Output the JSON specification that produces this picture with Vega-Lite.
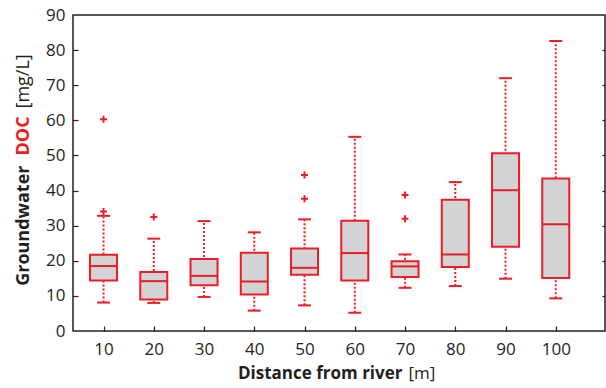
{
  "$schema": "https://vega.github.io/schema/vega-lite/v6.json",
  "width": 532,
  "height": 316,
  "autosize": "none",
  "padding": {"left": 73, "top": 15, "right": 1, "bottom": 57},
  "background": "white",
  "config": {
    "font": "Open Sans",
    "view": {"stroke": "#231f20", "strokeWidth": 1.5},
    "axis": {"grid": false, "domain": false, "labelColor": "#231f20", "titleColor": "#231f20", "labelFontSize": 17, "titleFontSize": 18, "tickColor": "#231f20", "tickWidth": 1.2}
  },
  "datasets": {
    "boxes": [
      {"dist": 10, "lo": 8.1, "q1": 14.4, "med": 18.5, "q3": 21.7, "hi": 32.8},
      {"dist": 20, "lo": 8.0, "q1": 9.0, "med": 14.2, "q3": 16.8, "hi": 26.3},
      {"dist": 30, "lo": 9.7, "q1": 13.0, "med": 15.7, "q3": 20.5, "hi": 31.3},
      {"dist": 40, "lo": 5.8, "q1": 10.4, "med": 14.1, "q3": 22.3, "hi": 28.1},
      {"dist": 50, "lo": 7.3, "q1": 16.0, "med": 18.0, "q3": 23.5, "hi": 31.8},
      {"dist": 60, "lo": 5.2, "q1": 14.4, "med": 22.2, "q3": 31.4, "hi": 55.3},
      {"dist": 70, "lo": 12.3, "q1": 15.4, "med": 18.4, "q3": 19.9, "hi": 21.8},
      {"dist": 80, "lo": 12.8, "q1": 18.2, "med": 21.8, "q3": 37.4, "hi": 42.4},
      {"dist": 90, "lo": 14.9, "q1": 24.0, "med": 40.1, "q3": 50.6, "hi": 72.0},
      {"dist": 100, "lo": 9.3, "q1": 15.1, "med": 30.4, "q3": 43.4, "hi": 82.6}
    ],
    "outliers": [
      {"dist": 10, "doc": 60.3},
      {"dist": 10, "doc": 34.0},
      {"dist": 20, "doc": 32.5},
      {"dist": 50, "doc": 44.4},
      {"dist": 50, "doc": 37.7},
      {"dist": 70, "doc": 38.7},
      {"dist": 70, "doc": 32.0}
    ]
  },
  "layer": [
    {
      "data": {"name": "boxes"},
      "mark": {"type": "rule", "color": "#ee1c25", "strokeWidth": 2, "strokeDash": [2, 2], "opacity": 1},
      "encoding": {
        "x": {"field": "dist", "type": "quantitative", "scale": {"domain": [4.92, 108.8], "nice": false},
          "axis": {"orient": "bottom", "values": [10, 20, 30, 40, 50, 60, 70, 80, 90, 100], "ticks": false, "labelPadding": 10, "labelFlush": false,
            "title": "Distance from river", "titleFontSize": 17, "titleFontWeight": "bold", "titleAlign": "right", "titleAnchor": null, "titleBaseline": "alphabetic", "titleX": 329, "titleY": 47}},
        "y": {"field": "lo", "type": "quantitative", "scale": {"domain": [0, 90], "nice": false},
          "axis": {"orient": "left", "values": [0, 10, 20, 30, 40, 50, 60, 70, 80, 90], "ticks": false, "labelPadding": 8, "labelFlush": false,
            "title": "Groundwater", "titleFontWeight": "bold", "titleAngle": -90, "titleAlign": "right", "titleAnchor": null, "titleBaseline": "alphabetic", "titleX": -45, "titleY": 150}},
        "y2": {"field": "hi"}
      }
    },
    {
      "data": {"name": "boxes"},
      "mark": {"type": "tick", "orient": "horizontal", "color": "#ee1c25", "size": 13, "thickness": 2, "opacity": 1},
      "encoding": {
        "x": {"field": "dist", "type": "quantitative",
          "axis": {"orient": "bottom", "labels": false, "ticks": false, "title": "[m]", "titleFontSize": 17, "titleFontWeight": "normal", "titleAlign": "left", "titleAnchor": null, "titleBaseline": "alphabetic", "titleX": 335, "titleY": 47}},
        "y": {"field": "lo", "type": "quantitative",
          "axis": {"orient": "right", "values": [10, 20, 30, 40, 50, 60, 70, 80], "labels": false, "ticks": true, "tickSize": -3, "title": null}}
      }
    },
    {
      "data": {"name": "boxes"},
      "mark": {"type": "tick", "orient": "horizontal", "color": "#ee1c25", "size": 13, "thickness": 2, "opacity": 1},
      "encoding": {
        "x": {"field": "dist", "type": "quantitative",
          "axis": {"orient": "bottom", "values": [10, 20, 30, 40, 50, 60, 70, 80, 90, 100], "labels": false, "ticks": true, "tickSize": -5, "title": null}},
        "y": {"field": "hi", "type": "quantitative",
          "axis": {"orient": "left", "labels": false, "ticks": false, "title": "DOC", "titleColor": "#ee1c25", "titleFontWeight": "bold", "titleAngle": -90, "titleAlign": "left", "titleAnchor": null, "titleBaseline": "alphabetic", "titleX": -45, "titleY": 140}}
      }
    },
    {
      "data": {"name": "boxes"},
      "mark": {"type": "bar", "size": 27, "fill": "#d1d3d4", "stroke": "#ee1c25", "strokeWidth": 2, "opacity": 1},
      "encoding": {
        "x": {"field": "dist", "type": "quantitative", "axis": null},
        "y": {"field": "q3", "type": "quantitative",
          "axis": {"orient": "left", "labels": false, "ticks": false, "title": "[mg/L]", "titleFontWeight": "normal", "titleAngle": -90, "titleAlign": "left", "titleAnchor": null, "titleBaseline": "alphabetic", "titleX": -45, "titleY": 93}},
        "y2": {"field": "q1"}
      }
    },
    {
      "data": {"name": "boxes"},
      "mark": {"type": "tick", "orient": "horizontal", "color": "#ee1c25", "size": 27, "thickness": 2, "opacity": 1},
      "encoding": {
        "x": {"field": "dist", "type": "quantitative", "axis": null},
        "y": {"field": "med", "type": "quantitative",
          "axis": {"orient": "left", "values": [10, 20, 30, 40, 50, 60, 70, 80], "labels": false, "ticks": true, "tickSize": -5, "title": null}}
      }
    },
    {
      "data": {"name": "outliers"},
      "mark": {"type": "point", "shape": "M-1,0L1,0M0,-1L0,1", "filled": false, "stroke": "#ee1c25", "strokeWidth": 2, "size": 49, "opacity": 1},
      "encoding": {
        "x": {"field": "dist", "type": "quantitative", "axis": null},
        "y": {"field": "doc", "type": "quantitative", "axis": null}
      }
    }
  ],
  "resolve": {"axis": {"x": "independent", "y": "independent"}}
}
